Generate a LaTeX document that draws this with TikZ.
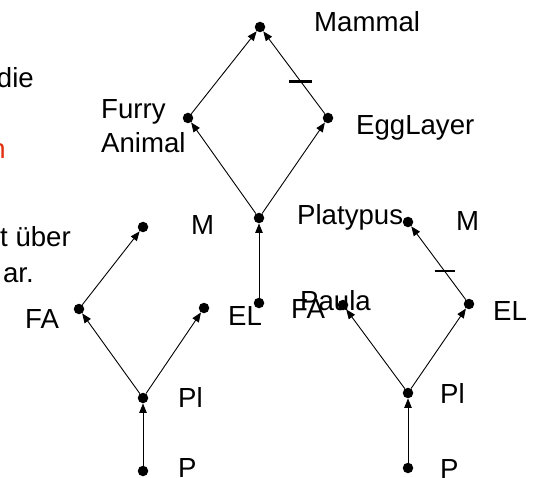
\documentclass[tikz,border=0pt]{standalone}
\usepackage{fontspec}
\setmainfont{Liberation Sans}
\usetikzlibrary{arrows.meta}
\definecolor{redtxt}{RGB}{224,48,16}
\begin{document}
\begin{tikzpicture}[x=1pt,y=-1pt,
  dot/.style={circle,fill=black,inner sep=0pt,minimum size=10.5pt},
  lbl/.style={anchor=base west,inner sep=0pt,font=\fontsize{27.6}{34}\selectfont},
  cuttxt/.style={anchor=base east,inner sep=0pt,font=\fontsize{27.6}{34}\selectfont},
  arr/.style={draw=black,line width=0.9pt,-{Triangle[length=9.5pt,width=7.5pt]}},
  tickmark/.style={draw=black,line width=2.5pt}]
\clip (0,0) rectangle (535,478);
% cut-off text on the left
\node[cuttxt] (t1) at (34,88) {die};
\node[cuttxt,text=redtxt] (t2) at (6,159) {n};
\node[cuttxt] (t3) at (71,247) {t über};
\node[cuttxt] (t4) at (34,283) {ar.};
% top diamond
\node[dot] (mam) at (260,27) {};
\node[dot] (fur) at (188,118) {};
\node[dot] (egg) at (328,118) {};
\node[dot] (pla) at (259,218) {};
\node[dot] (pau) at (259,303) {};
\node[lbl] (lmam) at (314,32) {Mammal};
\node[anchor=north west,inner sep=0pt,align=left,font=\fontsize{27.6}{34}\selectfont] (lfur) at (101,99) {Furry\\Animal};
\node[lbl] (legg) at (356,135) {EggLayer};
\node[lbl] (lpla) at (297,225) {Platypus};
\node[lbl] (lpau) at (300,310) {Paula};
\draw[arr] (fur) -- (mam);
\draw[arr] (egg) -- (mam);
\draw[arr] (pla) -- (fur);
\draw[arr] (pla) -- (egg);
\draw[arr] (pau) -- (pla);
\path (egg) -- (mam) coordinate[pos=0.39] (tk1);
\draw[tickmark] ([xshift=-11.5pt]tk1) -- ([xshift=11.5pt]tk1);
% left graph
\node[dot] (lm) at (143,227) {};
\node[dot] (lfa) at (79,309) {};
\node[dot] (lel) at (204,308) {};
\node[dot] (lpl) at (143,398) {};
\node[dot] (lp) at (143,471) {};
\node[lbl] (llm) at (191,235) {M};
\node[lbl] (llfa) at (25,328) {FA};
\node[lbl] (llel) at (228,325) {EL};
\node[lbl] (llpl) at (178,407) {Pl};
\node[lbl] (llp) at (178,477) {P};
\draw[arr] (lfa) -- (lm);
\draw[arr] (lpl) -- (lfa);
\draw[arr] (lpl) -- (lel);
\draw[arr] (lp) -- (lpl);
% right graph
\node[dot] (rm) at (408,222) {};
\node[dot] (rfa) at (343,305) {};
\node[dot] (rel) at (469,304) {};
\node[dot] (rpl) at (408,393) {};
\node[dot] (rp) at (408,468) {};
\node[lbl] (lrm) at (456,231) {M};
\node[lbl] (lrfa) at (291,318) {FA};
\node[lbl] (lrel) at (493,320) {EL};
\node[lbl] (lrpl) at (440,403) {Pl};
\node[lbl] (lrp) at (440,478) {P};
\draw[arr] (rel) -- (rm);
\draw[arr] (rpl) -- (rfa);
\draw[arr] (rpl) -- (rel);
\draw[arr] (rp) -- (rpl);
\path (rel) -- (rm) coordinate[pos=0.39] (tk2);
\draw[tickmark] ([xshift=-10pt]tk2) -- ([xshift=10pt]tk2);
\end{tikzpicture}
\end{document}
